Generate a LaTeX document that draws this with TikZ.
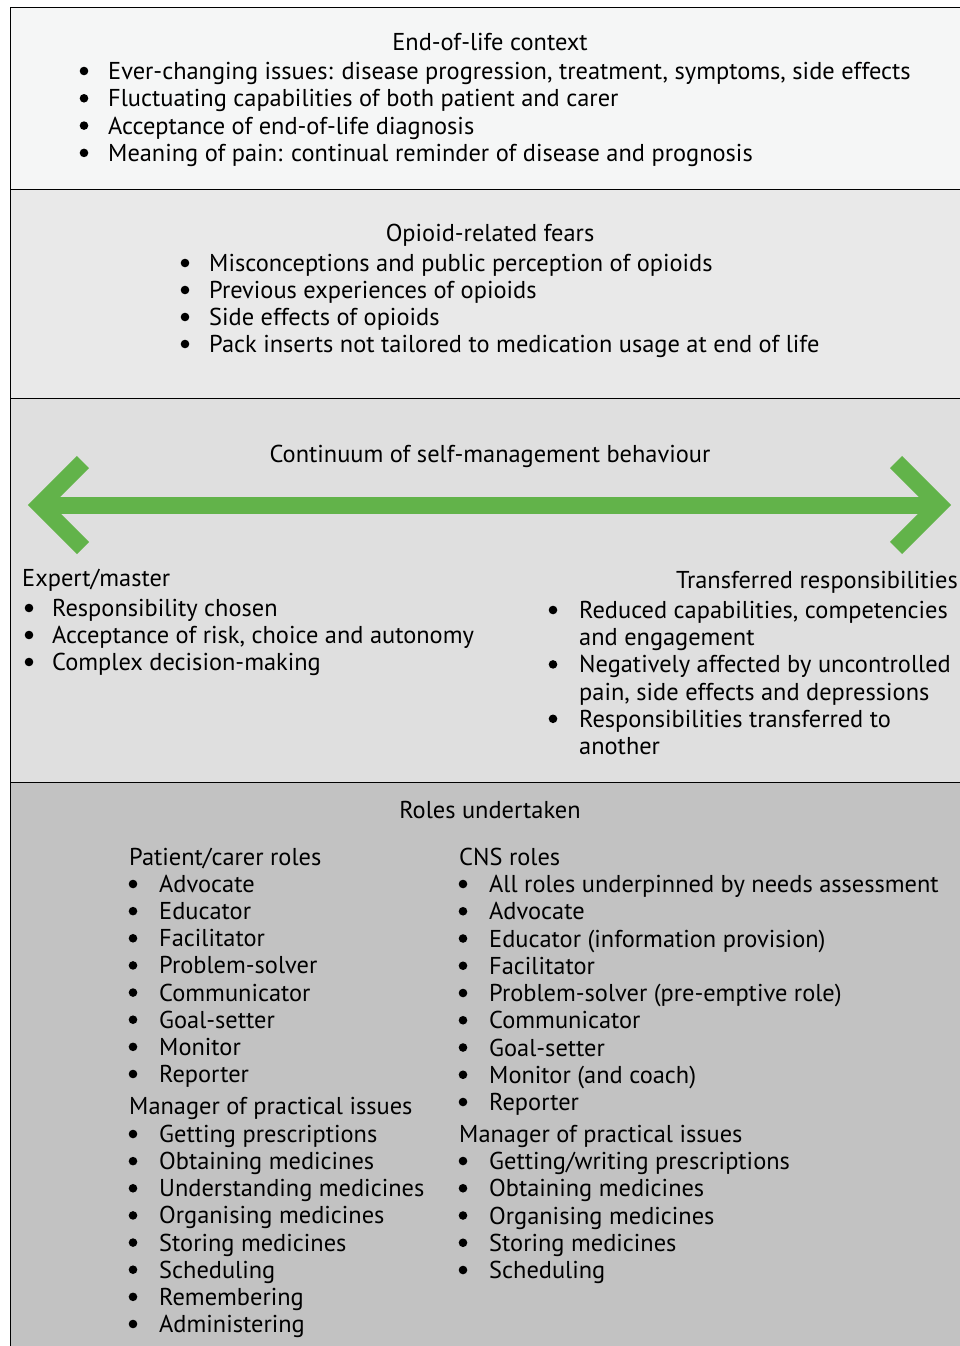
\documentclass[tikz,border=0pt]{standalone}
\usepackage{fontspec}
\setmainfont{PT Sans}
\newcommand\fs{\fontsize{24.4}{28}\selectfont}
\definecolor{cA}{HTML}{F5F6F6}
\definecolor{cB}{HTML}{E9E9E9}
\definecolor{cC}{HTML}{DFDFDF}
\definecolor{cD}{HTML}{C2C2C2}
\definecolor{arrgreen}{HTML}{62B34A}
\begin{document}
\begin{tikzpicture}[x=1pt,y=-1pt,
  every node/.style={inner sep=0pt, font=\fs, text=black},
  txt/.style={anchor=base west},
  ttl/.style={anchor=base},
  rtx/.style={anchor=base east},
  boxline/.style={draw=black, line width=1.8pt},
  greenline/.style={draw=arrgreen, line width=17pt, line join=miter}]
\useasboundingbox (0,0) rectangle (960,1346);
\begin{scope}
\clip (0,0) rectangle (960,1346);
\filldraw[boxline, fill=cA] (10.5,7.5) rectangle (990,189.5);
\filldraw[boxline, fill=cB] (10.5,189.5) rectangle (990,398.5);
\filldraw[boxline, fill=cC] (10.5,398.5) rectangle (990,782.5);
\filldraw[boxline, fill=cD] (10.5,782.5) rectangle (990,1400);
\end{scope}

% Box 1
\node[ttl] (t1) at (490,50.5) {End-of-life context};
\foreach \t [count=\i] in {{Ever-changing issues: disease progression, treatment, symptoms, side effects},
  {Fluctuating capabilities of both patient and carer},
  {Acceptance of end-of-life diagnosis},
  {Meaning of pain: continual reminder of disease and prognosis}} {
  \pgfmathsetmacro\yy{71+27.3*(\i-1)}
  \fill (84,\yy) circle (4.3);
  \node[txt] (a\i) at (108,\yy+8.5) {\t};
}

% Box 2
\node[ttl] (t2) at (490,241.5) {Opioid-related fears};
\foreach \t [count=\i] in {{Misconceptions and public perception of opioids},
  {Previous experiences of opioids},
  {Side effects of opioids},
  {Pack inserts not tailored to medication usage at end of life}} {
  \pgfmathsetmacro\yy{263+27*(\i-1)}
  \fill (185,\yy) circle (4.3);
  \node[txt] (b\i) at (209,\yy+8.5) {\t};
}

% Box 3
\node[ttl] (t3) at (490,462.5) {Continuum of self-management behaviour};
\coordinate (al) at (40,505);
\coordinate (ar) at (939,505);
\draw[greenline] (al) -- (ar);
\draw[greenline] (83,462) -- (al) -- (83,548);
\draw[greenline] (896,462) -- (ar) -- (896,548);

\node[txt] (el) at (22,586.5) {Expert/master};
\foreach \t [count=\i] in {{Responsibility chosen},
  {Acceptance of risk, choice and autonomy},
  {Complex decision-making}} {
  \pgfmathsetmacro\yy{608+27*(\i-1)}
  \fill (29,\yy) circle (4.3);
  \node[txt] (e\i) at (52,\yy+8.5) {\t};
}
\node[rtx] (tr) at (958,588.5) {Transferred responsibilities};
\foreach \t [count=\i] in {{Reduced capabilities, competencies},
  {and engagement},
  {Negatively affected by uncontrolled},
  {pain, side effects and depressions},
  {Responsibilities transferred to},
  {another}} {
  \pgfmathsetmacro\yy{610+27.2*(\i-1)}
  \node[txt] (r\i) at (579,\yy+8.5) {\t};
}
\foreach \i in {0,2,4} {
  \fill (553,{610+27.2*\i}) circle (4.3);
}

% Box 4
\node[ttl] (t4) at (490,818.5) {Roles undertaken};
\node[txt] (ph) at (129,865.5) {Patient/carer roles};
\foreach \t [count=\i] in {Advocate, Educator, Facilitator, Problem-solver,
  Communicator, Goal-setter, Monitor, Reporter} {
  \pgfmathsetmacro\yy{884+27.14*(\i-1)}
  \fill (133,\yy) circle (4.3);
  \node[txt] (p\i) at (159,\yy+8.5) {\t};
}
\node[txt] (pm) at (129,1114.5) {Manager of practical issues};
\foreach \t [count=\i] in {Getting prescriptions, Obtaining medicines,
  Understanding medicines, Organising medicines, Storing medicines,
  Scheduling, Remembering, Administering} {
  \pgfmathsetmacro\yy{1134+27.14*(\i-1)}
  \fill (133,\yy) circle (4.3);
  \node[txt] (q\i) at (159,\yy+8.5) {\t};
}

\node[txt] (ch) at (459,865.5) {CNS roles};
\foreach \t [count=\i] in {All roles underpinned by needs assessment, Advocate,
  Educator (information provision), Facilitator,
  Problem-solver (pre-emptive role), Communicator, Goal-setter,
  Monitor (and coach), Reporter} {
  \pgfmathsetmacro\yy{884+27.25*(\i-1)}
  \fill (463,\yy) circle (4.3);
  \node[txt] (c\i) at (489,\yy+8.5) {\t};
}
\node[txt] (cm) at (459,1142.5) {Manager of practical issues};
\foreach \t [count=\i] in {Getting/writing prescriptions, Obtaining medicines,
  Organising medicines, Storing medicines, Scheduling} {
  \pgfmathsetmacro\yy{1161+27.25*(\i-1)}
  \fill (463,\yy) circle (4.3);
  \node[txt] (d\i) at (489,\yy+8.5) {\t};
}
\end{tikzpicture}
\end{document}
